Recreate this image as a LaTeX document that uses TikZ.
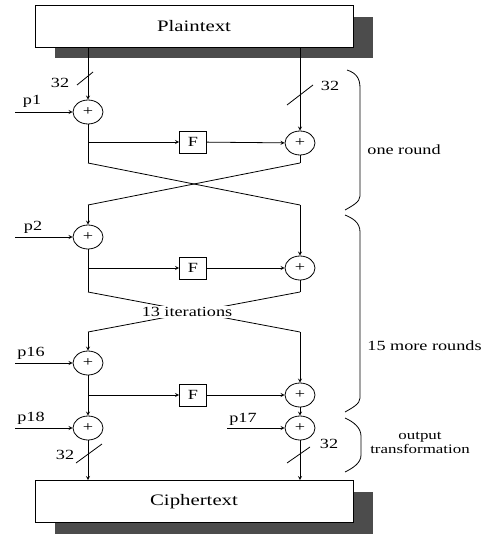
\documentclass[tikz,border=0pt]{standalone}
\usepackage{fontspec}
\setmainfont{Liberation Serif}[FakeStretch=1.3]
\usetikzlibrary{shapes.geometric}
\begin{document}
\begin{tikzpicture}[x=1pt,y=-1pt,>=stealth,line width=0.8pt,font=\fontsize{14}{16}\selectfont]
  \tikzset{block/.style={draw, fill=white, minimum width=318pt, minimum height=42pt, font=\fontsize{16}{18}\selectfont},
    shade/.style={fill=black!70},
    xorop/.style={draw, ellipse, fill=white, minimum width=30pt, minimum height=24pt, inner sep=0pt},
    fbox/.style={draw, fill=white, minimum width=27pt, minimum height=22pt, inner sep=0pt},
    lbl/.style={inner sep=1pt}}
  \useasboundingbox (0,0) rectangle (481,535);
  % boxes with their shadows
  \fill[shade] (55,17) rectangle (373,58);
  \node[block] (plain) at (194,26) {Plaintext};
  \fill[shade] (55,492) rectangle (373,534);
  \node[block] (cipher) at (194,501.5) {Ciphertext};
  % round operators
  \node[xorop] (l1) at (88,112) {+};
  \node[xorop] (r1) at (300,143) {+};
  \node[fbox] (f1) at (193,142) {F};
  \node[xorop] (l2) at (88,237) {+};
  \node[xorop] (r2) at (300,268) {+};
  \node[fbox] (f2) at (193,268) {F};
  \node[xorop] (l16) at (88,363) {+};
  \node[xorop] (r16) at (300,395) {+};
  \node[fbox] (f3) at (193,395) {F};
  \node[xorop] (l18) at (88,428) {+};
  \node[xorop] (r17) at (300,428) {+};
  % subkey inputs
  \coordinate (in1) at (15,112);
  \coordinate (in2) at (15,237);
  \coordinate (in16) at (15,363);
  \coordinate (in18) at (15,428);
  \coordinate (in17) at (227,428);
  \node[lbl] (p1) at (32,101) {p1};
  \node[lbl] (p2) at (33,227) {p2};
  \node[lbl] (p16) at (31,353) {p16};
  \node[lbl] (p18) at (31,418) {p18};
  \node[lbl] (p17) at (243,419) {p17};
  \draw[->] (in1) -- (l1);
  \draw[->] (in2) -- (l2);
  \draw[->] (in16) -- (l16);
  \draw[->] (in18) -- (l18);
  \draw[->] (in17) -- (r17);
  % crossing points
  \coordinate (a1) at (88,163);
  \coordinate (b1) at (300,163);
  \coordinate (a2) at (88,205);
  \coordinate (b2) at (300,205);
  \coordinate (a3) at (88,292);
  \coordinate (b3) at (300,292);
  \coordinate (a4) at (88,332);
  \coordinate (b4) at (300,332);
  % first round
  \draw[->] (plain.south -| l1) -- (l1);
  \draw[->] (plain.south -| r1) -- (r1);
  \draw (l1) -- (a1);
  \draw[->] (l1 |- f1) -- (f1);
  \draw[->] (f1) -- (r1);
  \draw (r1) -- (b1);
  \draw (a1) -- (b2);
  \draw (b1) -- (a2);
  \draw[->] (a2) -- (l2);
  \draw[->] (b2) -- (r2);
  % second round
  \draw (l2) -- (a3);
  \draw[->] (l2 |- f2) -- (f2);
  \draw[->] (f2) -- (r2);
  \draw (r2) -- (b3);
  \draw (a3) -- (b4);
  \draw (b3) -- (a4);
  \node[fill=white, inner sep=1pt] (iter) at (187,312) {13 iterations};
  \draw[->] (a4) -- (l16);
  \draw[->] (b4) -- (r16);
  % last round
  \draw[->] (l16) -- (l18);
  \draw[->] (l16 |- f3) -- (f3);
  \draw[->] (f3) -- (r16);
  \draw[->] (r16) -- (r17);
  \draw[->] (l18) -- (cipher.north -| l18);
  \draw[->] (r17) -- (cipher.north -| r17);
  % bus widths
  \draw (77,85) -- (93,72);
  \node[lbl] (w1) at (60,83) {32};
  \draw (287,105) -- (313,85);
  \node[lbl] (w2) at (330,86) {32};
  \draw (76,463) -- (102,444);
  \node[lbl] (w3) at (65,455) {32};
  \draw (287,463) -- (310,447);
  \node[lbl] (w4) at (329,444) {32};
  % braces
  \draw (347,70) .. controls (356,73) and (360,78) .. (360,88) -- (360,196)
    .. controls (360,202) and (352,206) .. (345,210);
  \draw (345,215) .. controls (352,218) and (360,222) .. (360,232) -- (360,398)
    .. controls (360,404) and (352,408) .. (345,412);
  \draw (345,418) .. controls (354,422) and (361,428) .. (361,436) -- (361,455)
    .. controls (361,463) and (353,468) .. (345,472);
  \node[anchor=west, lbl] (one) at (366,150) {one round};
  \node[anchor=west, lbl] (more) at (366,346) {15 more rounds};
  \node[align=center, lbl, font=\fontsize{13}{14}\selectfont] (outt) at (420,443) {output\\transformation};
\end{tikzpicture}
\end{document}
